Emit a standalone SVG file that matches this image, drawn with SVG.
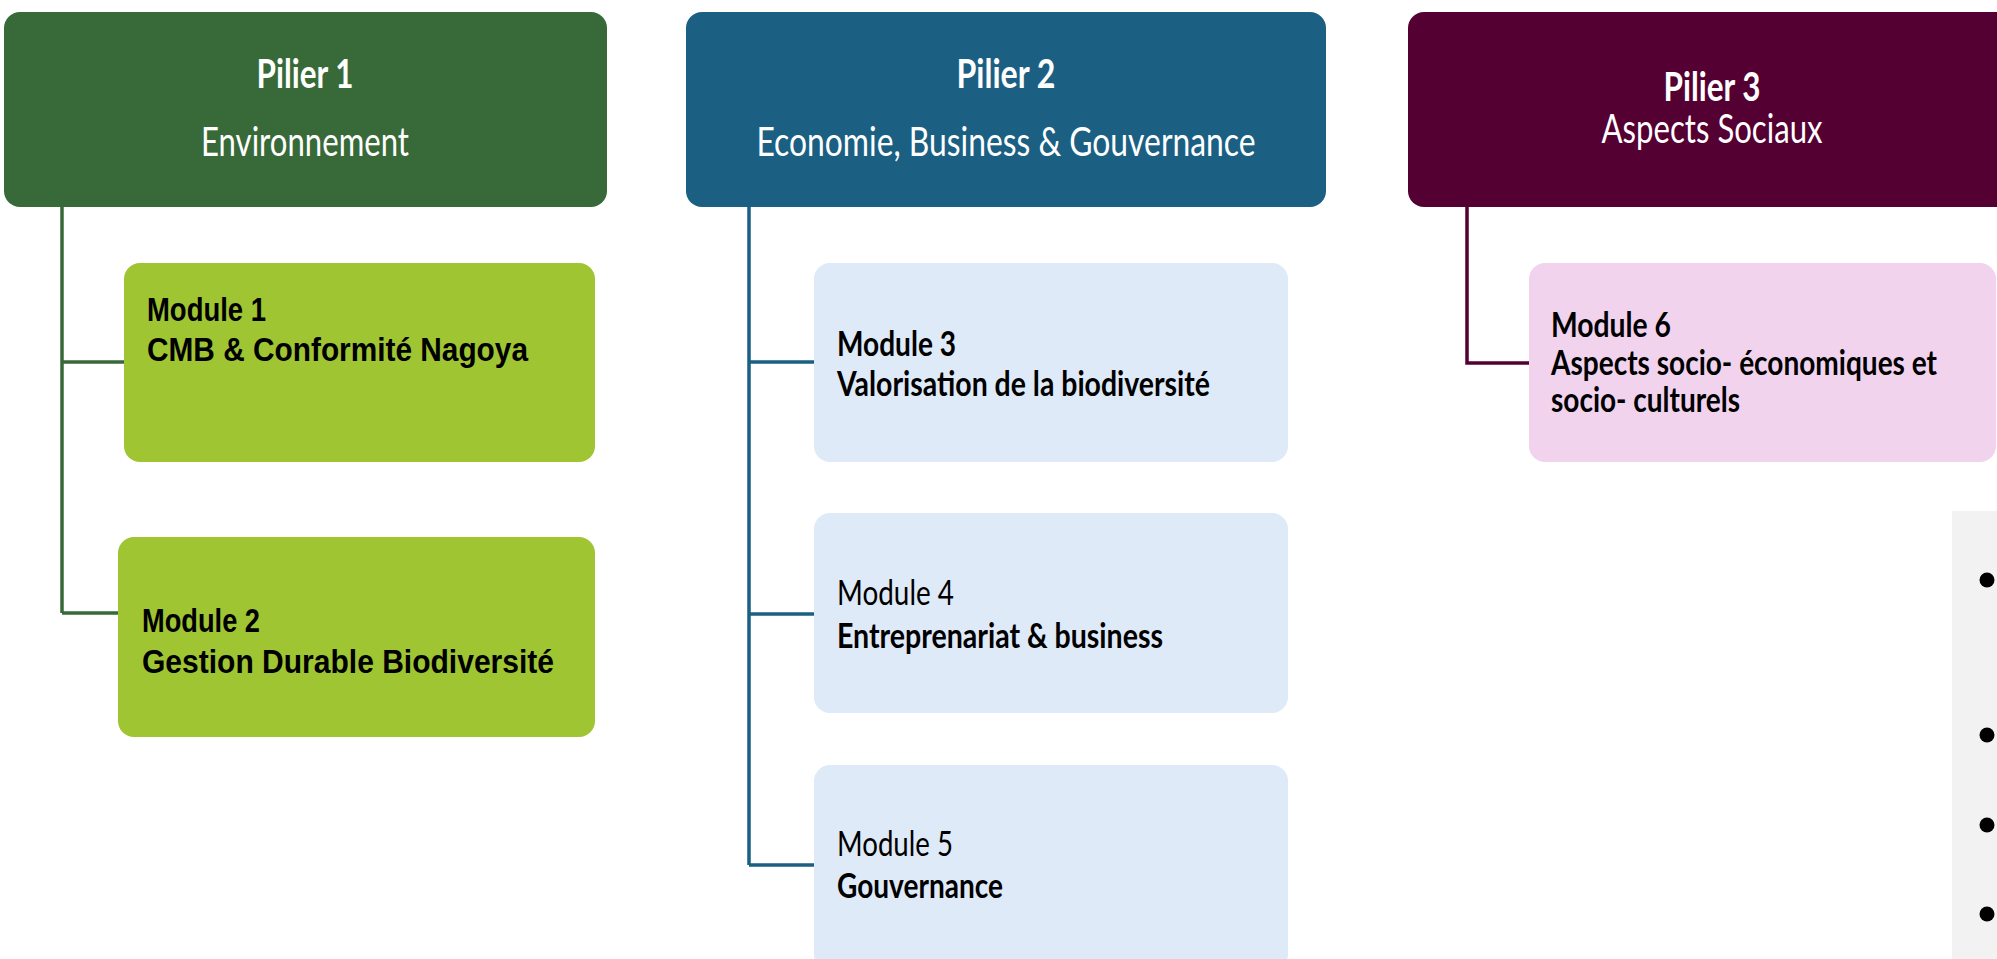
<svg xmlns="http://www.w3.org/2000/svg" width="1997" height="959" viewBox="0 0 1997 959">
<style>
.pt{font-family:Lato,"Open Sans",sans-serif;font-weight:700;font-size:40px;fill:#ffffff}
.ps{font-family:Lato,"Open Sans",sans-serif;font-weight:400;font-size:41px;fill:#ffffff}
.ma{font-family:"Liberation Sans",Arial,sans-serif;font-weight:700;font-size:34px;fill:#000000}
.mc{font-family:Lato,"Open Sans",sans-serif;font-weight:400;font-size:35px;fill:#000000}
.b{font-weight:700}
.conn{fill:none;stroke-width:3.5}
.k1{stroke:#386A39}
.k2{stroke:#1B5F83}
.k3{stroke:#540033}
.p1{fill:#386A39}
.p2{fill:#1B5F83}
.p3{fill:#540033}
.g{fill:#9FC532}
.bl{fill:#DEEAF8}
.pk{fill:#F1D3EE}
</style>
<rect x="0" y="0" width="1997" height="959" fill="#ffffff"/>

<g id="connectors">
  <path class="conn k1" d="M62 207 V613 M62 362 H124 M62 613 H118"/>
  <path class="conn k2" d="M749 207 V865 M749 362 H814 M749 614 H814 M749 865 H814"/>
  <path class="conn k3" d="M1467 207 V363 H1529"/>
</g>

<g id="pilier1">
  <rect class="p1" x="4" y="12" width="603" height="195" rx="16"/>
  <text class="pt" x="305" y="88" text-anchor="middle" textLength="97" lengthAdjust="spacingAndGlyphs">Pilier 1</text>
  <text class="ps" x="305" y="156" text-anchor="middle" textLength="208" lengthAdjust="spacingAndGlyphs">Environnement</text>
</g>
<g id="pilier2">
  <rect class="p2" x="686" y="12" width="640" height="195" rx="16"/>
  <text class="pt" x="1006" y="88" text-anchor="middle" textLength="99" lengthAdjust="spacingAndGlyphs">Pilier 2</text>
  <text class="ps" x="1006" y="156" text-anchor="middle" textLength="499" lengthAdjust="spacingAndGlyphs">Economie, Business &amp; Gouvernance</text>
</g>
<g id="pilier3">
  <rect class="p3" x="1408" y="12" width="610" height="195" rx="16"/>
  <text class="pt" x="1712" y="101" text-anchor="middle" textLength="97" lengthAdjust="spacingAndGlyphs">Pilier 3</text>
  <text class="ps" x="1712" y="143" text-anchor="middle" textLength="221" lengthAdjust="spacingAndGlyphs">Aspects Sociaux</text>
</g>

<g id="module1">
  <rect class="g" x="124" y="263" width="471" height="199" rx="16"/>
  <text class="ma" x="147" y="321" textLength="119" lengthAdjust="spacingAndGlyphs">Module 1</text>
  <text class="ma" x="147" y="361" textLength="381" lengthAdjust="spacingAndGlyphs">CMB &amp; Conformité Nagoya</text>
</g>
<g id="module2">
  <rect class="g" x="118" y="537" width="477" height="200" rx="16"/>
  <text class="ma" x="142" y="632" textLength="118" lengthAdjust="spacingAndGlyphs">Module 2</text>
  <text class="ma" x="142" y="673" textLength="412" lengthAdjust="spacingAndGlyphs">Gestion Durable Biodiversité</text>
</g>

<g id="module3">
  <rect class="bl" x="814" y="263" width="474" height="199" rx="16"/>
  <text class="mc b" x="837" y="356" textLength="119" lengthAdjust="spacingAndGlyphs">Module 3</text>
  <text class="mc b" x="837" y="396" textLength="373" lengthAdjust="spacingAndGlyphs">Valorisation de la biodiversité</text>
</g>
<g id="module4">
  <rect class="bl" x="814" y="513" width="474" height="200" rx="16"/>
  <text class="mc" x="837" y="605" textLength="117" lengthAdjust="spacingAndGlyphs">Module 4</text>
  <text class="mc b" x="837" y="648" textLength="326" lengthAdjust="spacingAndGlyphs">Entreprenariat &amp; business</text>
</g>
<g id="module5">
  <rect class="bl" x="814" y="765" width="474" height="205" rx="16"/>
  <text class="mc" x="837" y="856" textLength="116" lengthAdjust="spacingAndGlyphs">Module 5</text>
  <text class="mc b" x="837" y="898" textLength="166" lengthAdjust="spacingAndGlyphs">Gouvernance</text>
</g>

<g id="module6">
  <rect class="pk" x="1529" y="263" width="467" height="199" rx="16"/>
  <text class="mc b" x="1551" y="337" textLength="120" lengthAdjust="spacingAndGlyphs">Module 6</text>
  <text class="mc b" x="1551" y="375" textLength="386" lengthAdjust="spacingAndGlyphs">Aspects socio- économiques et</text>
  <text class="mc b" x="1551" y="412" textLength="189" lengthAdjust="spacingAndGlyphs">socio- culturels</text>
</g>

<g id="panel">
  <rect x="1952" y="511" width="60" height="460" fill="#F2F2F2"/>
  <circle cx="1987" cy="580" r="7.5" fill="#000000"/>
  <circle cx="1987" cy="735" r="7.5" fill="#000000"/>
  <circle cx="1987" cy="825" r="7.5" fill="#000000"/>
  <circle cx="1987" cy="914" r="7.5" fill="#000000"/>
</g>
</svg>
